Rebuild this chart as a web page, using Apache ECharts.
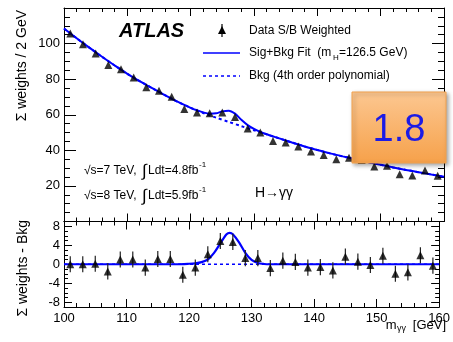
<!DOCTYPE html>
<html><head><meta charset="utf-8">
<script src="https://cdn.jsdelivr.net/npm/echarts@6/dist/echarts.min.js"></script>
<style>html,body{margin:0;padding:0;background:#fff}#c{width:453px;height:342px}</style>
</head><body><div id="c"></div>
<script>
// ---- data ----
const massBins = [101,103,105,107,109,111,113,115,117,119,121,123,125,127,129,131,133,135,137,139,141,143,145,147,149,151,153,155,157,159];
const dataWeighted = [105.6,99.6,94.4,88.0,85.6,81.0,75.5,73.5,70.1,63.2,61.3,60.8,61.3,58.7,52.3,50.0,45.3,44.4,42.2,39.3,37.4,35.0,35.9,34.5,30.9,31.3,26.6,25.9,28.6,25.7];
const residuals = [0.0,0.0,0.1,-1.5,1.0,1.0,-0.7,1.1,1.1,-2.2,-0.7,2.1,4.9,4.7,1.3,1.3,-0.8,0.75,0.5,-0.7,-0.6,-1.3,1.6,0.55,-0.15,1.8,-2.0,-1.7,1.9,-0.3];
const residualErr = [1.7,1.7,1.7,1.7,1.7,1.7,1.7,1.7,1.7,1.7,1.7,1.7,1.7,1.7,1.7,1.7,1.7,1.7,1.7,1.7,1.7,1.7,1.7,1.7,1.7,1.7,1.7,1.7,1.7,1.7];
const fitMass = [100,102,104,106,108,110,112,114,116,118,120,121,122,123,124,125,126,127,128,129,130,131,132,134,136,138,140,142,144,146,148,150,152,154,156,158,160];
const fitValues = [108.5,103.0,97.7,92.6,87.7,83.0,78.8,74.8,70.9,67.2,63.9,62.5,61.3,60.6,60.8,61.9,62.3,60.6,57.2,54.2,52.0,50.3,49.0,46.7,44.4,42.2,40.2,38.3,36.6,35.0,33.4,31.9,30.4,29.0,27.7,26.4,25.2];
const bkgMass = [100,102,104,106,108,110,112,114,116,118,120,122,124,126,128,130,132,134,136,138,140,142,144,146,148,150,152,154,156,158,160];
const bkgValues = [108.5,103.0,97.7,92.6,87.7,83.0,78.8,74.8,70.9,67.2,63.9,61.0,58.4,56.0,53.6,51.3,49.0,46.7,44.4,42.2,40.2,38.3,36.6,35.0,33.4,31.9,30.4,29.0,27.7,26.4,25.2];
const sigMass = [100,110,118,120,121,122,123,124,125,126,126.5,127,128,129,130,131,132,133,140,150,160];
const sigValues = [0,0,0,0.1,0.2,0.45,1.0,2.4,4.4,6.3,6.6,6.3,4.6,2.4,0.9,0.25,0.05,0,0,0,0];
const xTicks = [100,110,120,130,140,150,160];
const yTicksTop = [20,40,60,80,100];
const yTicksBottom = [-8,-4,0,4,8];
const significanceLabel = '1.8';

const FONT = '"Liberation Sans", Arial, Helvetica, sans-serif';
const BLUE = '#0000ff';
const pairs = (xs, ys) => xs.map((x, i) => [x, ys[i]]);

function xAx(grid, pos, labels) {
  return {
    type: 'value', gridIndex: grid, position: pos, min: xTicks[0], max: xTicks[xTicks.length-1], interval: 10,
    axisLine: {show: true, onZero: false, lineStyle: {color: '#000', width: 1}},
    axisTick: {show: true, inside: true, length: 8, lineStyle: {color: '#000'}},
    minorTick: {show: true, splitNumber: 5, length: 4, lineStyle: {color: '#000'}},
    splitLine: {show: false},
    axisLabel: {show: labels, color: '#000', fontSize: 13, fontFamily: FONT, margin: 5}
  };
}
function yTop(pos, labels) {
  return {
    type: 'value', gridIndex: 0, position: pos, min: 0, max: 120, interval: 20,
    axisLine: {show: true, onZero: false, lineStyle: {color: '#000'}},
    axisTick: {show: true, inside: true, length: 12, lineStyle: {color: '#000'}},
    minorTick: {show: true, splitNumber: 4, length: 6, lineStyle: {color: '#000'}},
    splitLine: {show: false},
    axisLabel: {show: labels, color: '#000', fontSize: 13, fontFamily: FONT, margin: 4,
      showMinLabel: false, showMaxLabel: false}
  };
}
function yBot(pos, labels) {
  return {
    type: 'value', gridIndex: 1, position: pos, min: -9, max: 9, interval: 1,
    axisLine: {show: true, onZero: false, lineStyle: {color: '#000'}},
    axisTick: {show: true, inside: true, length: 4, lineStyle: {color: '#000'}},
    splitLine: {show: false},
    axisLabel: {show: labels, color: '#000', fontSize: 13, fontFamily: FONT, margin: 4,
      customValues: yTicksBottom}
  };
}
function yBotMajor(pos) {
  return {
    type: 'value', gridIndex: 1, position: pos, min: -9, max: 9, interval: 1,
    axisLine: {show: false},
    axisTick: {show: true, inside: true, length: 8, customValues: yTicksBottom, lineStyle: {color: '#000'}},
    splitLine: {show: false},
    axisLabel: {show: false}
  };
}

const chart = echarts.init(document.getElementById('c'), null, {renderer: 'canvas'});
const option = {
  animation: false,
  backgroundColor: '#fff',
  grid: [
    {left: 64, right: 9, top: 8, height: 213.5},
    {left: 64, right: 9, top: 221.5, height: 85.5}
  ],
  xAxis: [xAx(0, 'bottom', false), xAx(0, 'top', false), xAx(1, 'bottom', true), xAx(1, 'top', false)],
  yAxis: [yTop('left', true), yTop('right', false), yBot('left', true), yBot('right', false), yBotMajor('left'), yBotMajor('right')],
  series: [
    {type: 'line', xAxisIndex: 0, yAxisIndex: 0, data: pairs(bkgMass, bkgValues), smooth: 0.3, symbol: 'none',
      lineStyle: {color: BLUE, width: 2, type: [3, 3]}, z: 2},
    {type: 'line', xAxisIndex: 0, yAxisIndex: 0, data: pairs(fitMass, fitValues), smooth: 0.3, symbol: 'none',
      lineStyle: {color: BLUE, width: 2}, z: 3},
    {type: 'scatter', xAxisIndex: 0, yAxisIndex: 0, data: pairs(massBins, dataWeighted), symbol: 'triangle',
      symbolSize: [8, 8], itemStyle: {color: '#000'}, z: 4},
    {type: 'line', xAxisIndex: 2, yAxisIndex: 2, data: [[100, 0], [160, 0]], symbol: 'none',
      lineStyle: {color: BLUE, width: 1.5, type: [3, 3]}, z: 2},
    {type: 'line', xAxisIndex: 2, yAxisIndex: 2, data: pairs(sigMass, sigValues), smooth: 0.3, symbol: 'none',
      lineStyle: {color: BLUE, width: 2.2}, z: 3},
    {type: 'custom', xAxisIndex: 2, yAxisIndex: 2, z: 4,
      data: massBins.map((m, i) => [m, residuals[i] - residualErr[i], residuals[i] + residualErr[i]]),
      renderItem: function (params, api) {
        const lo = api.coord([api.value(0), api.value(1)]);
        const hi = api.coord([api.value(0), api.value(2)]);
        return {type: 'line', shape: {x1: lo[0], y1: lo[1], x2: hi[0], y2: hi[1]},
          style: {stroke: '#222', lineWidth: 1.2}};
      }},
    {type: 'scatter', xAxisIndex: 2, yAxisIndex: 2, data: pairs(massBins, residuals), symbol: 'triangle',
      symbolSize: [8, 8], itemStyle: {color: '#000'}, z: 5}
  ],
  graphic: [
    {type: 'text', left: 119, top: 21, style: {text: 'ATLAS', font: 'italic bold 20px ' + FONT, fill: '#000'}},
    // legend
    {type: 'line', shape: {x1: 222, y1: 24, x2: 222, y2: 37}, style: {stroke: '#000', lineWidth: 1.2}},
    {type: 'polygon', shape: {points: [[222, 26], [226, 34], [218, 34]]}, style: {fill: '#000'}},
    {type: 'text', x: 249, y: 30.5, style: {text: 'Data S/B Weighted', font: '12px ' + FONT, fill: '#000', verticalAlign: 'middle'}},
    {type: 'line', shape: {x1: 203, y1: 53, x2: 240, y2: 53}, style: {stroke: BLUE, lineWidth: 1.5}},
    {type: 'text', x: 249, y: 53, style: {text: 'Sig+Bkg Fit  (m', font: '12px ' + FONT, fill: '#000', verticalAlign: 'middle'}},
    {type: 'text', x: 333, y: 58, style: {text: 'H', font: '8px ' + FONT, fill: '#000', verticalAlign: 'middle'}},
    {type: 'text', x: 339, y: 53, style: {text: '=126.5 GeV)', font: '12px ' + FONT, fill: '#000', verticalAlign: 'middle'}},
    {type: 'line', shape: {x1: 203, y1: 76, x2: 240, y2: 76}, style: {stroke: BLUE, lineWidth: 1.5, lineDash: [3, 3]}},
    {type: 'text', x: 249, y: 75.5, style: {text: 'Bkg (4th order polynomial)', font: '12px ' + FONT, fill: '#000', verticalAlign: 'middle'}},
    // energies
    {type: 'text', x: 84, y: 171, style: {text: '√s=7 TeV, ', font: '12px ' + FONT, fill: '#000', verticalAlign: 'middle'}},
    {type: 'text', x: 142, y: 171, style: {text: '∫', font: '17px ' + FONT, fill: '#000', verticalAlign: 'middle'}},
    {type: 'text', x: 148, y: 171, style: {text: 'Ldt=4.8fb', font: '12px ' + FONT, fill: '#000', verticalAlign: 'middle'}},
    {type: 'text', x: 199, y: 165, style: {text: '-1', font: '8px ' + FONT, fill: '#000', verticalAlign: 'middle'}},
    {type: 'text', x: 84, y: 196, style: {text: '√s=8 TeV, ', font: '12px ' + FONT, fill: '#000', verticalAlign: 'middle'}},
    {type: 'text', x: 142, y: 196, style: {text: '∫', font: '17px ' + FONT, fill: '#000', verticalAlign: 'middle'}},
    {type: 'text', x: 148, y: 196, style: {text: 'Ldt=5.9fb', font: '12px ' + FONT, fill: '#000', verticalAlign: 'middle'}},
    {type: 'text', x: 199, y: 190, style: {text: '-1', font: '8px ' + FONT, fill: '#000', verticalAlign: 'middle'}},
    {type: 'text', x: 255, y: 193.5, style: {text: 'H→γγ', font: '14px ' + FONT, fill: '#000', verticalAlign: 'middle'}},
    // axis titles
    {type: 'text', x: 22, y: 10, rotation: Math.PI / 2, style: {text: 'Σ weights / 2 GeV', font: '14px ' + FONT, fill: '#000', align: 'right', verticalAlign: 'middle'}},
    {type: 'text', x: 23, y: 220, rotation: Math.PI / 2, style: {text: 'Σ weights - Bkg', font: '14px ' + FONT, fill: '#000', align: 'right', verticalAlign: 'middle'}},
    {type: 'text', x: 396.5, y: 325, style: {text: 'm', font: '13px ' + FONT, fill: '#000', align: 'right', verticalAlign: 'middle'}},
    {type: 'text', x: 397, y: 329, style: {text: 'γγ', font: '9px ' + FONT, fill: '#000', verticalAlign: 'middle'}},
    {type: 'text', x: 446, y: 325, style: {text: '[GeV]', font: '13px ' + FONT, fill: '#000', align: 'right', verticalAlign: 'middle'}},
    // significance box
    {type: 'rect', z: 100, shape: {x: 352, y: 92, width: 94, height: 71},
      style: {fill: new echarts.graphic.LinearGradient(0, 0, 0, 1, [{offset: 0, color: '#fcc791'}, {offset: 1, color: '#f6a14a'}]),
        stroke: '#f2a24f', lineWidth: 1, shadowBlur: 4, shadowOffsetX: 2, shadowOffsetY: 2, shadowColor: 'rgba(0,0,0,0.35)'}},
    {type: 'text', z: 101, x: 399, y: 131, style: {text: significanceLabel, font: '38px ' + FONT, fill: '#1b1be6', align: 'center', verticalAlign: 'middle'}}
  ]
};
chart.setOption(option);
</script></body></html>
